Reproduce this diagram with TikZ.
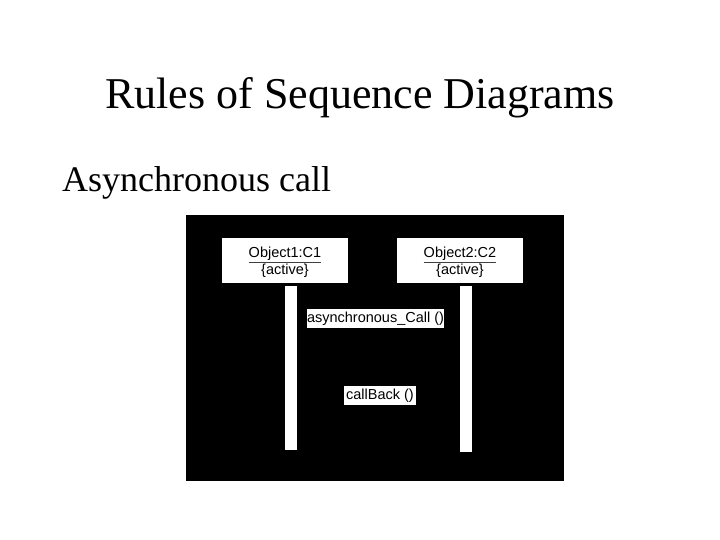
\documentclass[tikz,border=0pt]{standalone}
\usepackage{fontspec}
\setmainfont{Liberation Serif}
\newfontfamily\arialfont{Liberation Sans}
\begin{document}
\begin{tikzpicture}[x=1pt,y=-1pt,
  whitebox/.style={fill=white, draw=none, inner sep=0pt, align=center,
    font=\arialfont\fontsize{14.5}{15.5}\selectfont},
  objtext/.style={inner sep=0pt, align=center,
    font=\arialfont\fontsize{14.5}{15}\selectfont},
  bar/.style={fill=white, draw=none, inner sep=0pt, minimum width=12pt},
  heading/.style={anchor=base west, inner sep=0pt, font=\fontsize{44}{48}\selectfont},
  sub/.style={anchor=base west, inner sep=0pt, font=\fontsize{36}{40}\selectfont}]
\useasboundingbox (0,0) rectangle (720,540);
\fill[white] (0,0) rectangle (720,540);
\node[heading] (title) at (105,109) {Rules of Sequence Diagrams};
\node[sub] (subtitle) at (62,192) {Asynchronous call};
\node[fill=black, inner sep=0pt, minimum width=378pt, minimum height=266pt] (panel) at (375,348) {};
\node[whitebox, minimum width=126pt, minimum height=45pt] (obj1) at (285,260.5) {};
\node[objtext] (obj1text) at (285,262.5)
  {{\color{darkgray}\underline{\color{black}Object1:C1}}\\\{active\}};
\node[whitebox, minimum width=126pt, minimum height=45pt] (obj2) at (460,260.5) {};
\node[objtext] (obj2text) at (460,262.5)
  {{\color{darkgray}\underline{\color{black}Object2:C2}}\\\{active\}};
\node[bar, minimum height=164pt] (life1) at (291,368) {};
\node[bar, minimum height=166pt] (life2) at (466,369) {};
\node[whitebox, minimum width=137pt, minimum height=19pt] (msg1) at (375.5,318.5) {asynchronous\_Call ()};
\node[whitebox, minimum width=72pt, minimum height=19pt] (msg2) at (380,395.5) {callBack ()};
\end{tikzpicture}
\end{document}
